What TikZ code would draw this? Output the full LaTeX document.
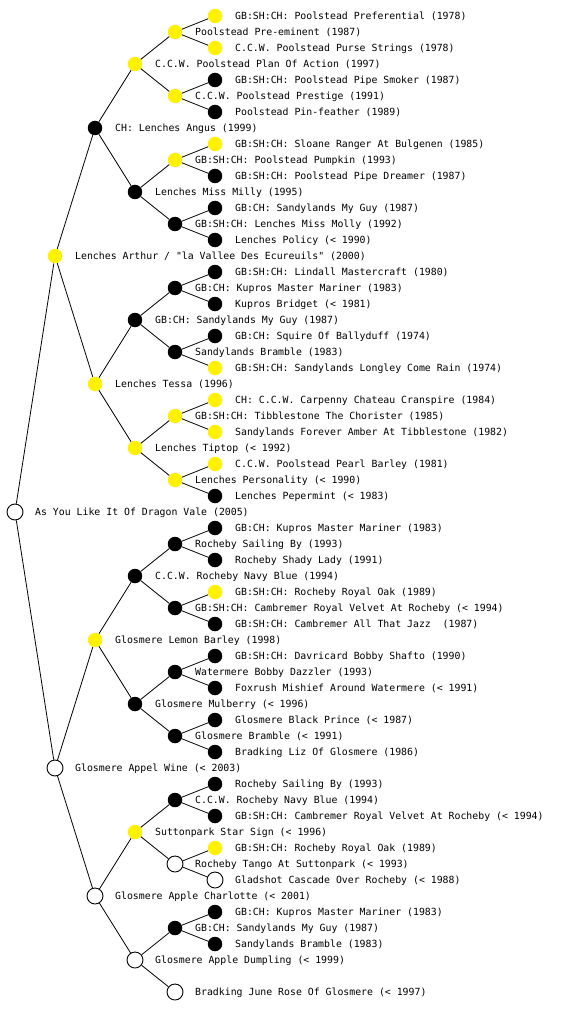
\documentclass[tikz,border=0pt]{standalone}
\usepackage{fontspec}
\newfontfamily\dogfont{DejaVu Sans Mono}
\newcommand\dg[5]{%
  \node[#4] (#1) at ({40*#2+15},{16*#3}) {};
  \node[lbl] (#1t) at ({40*#2+35},{16*#3+3.6}) {#5};}
\begin{document}
\begin{tikzpicture}[x=1pt,y=-1pt,
  wnode/.style={circle, draw=black, fill=white, line width=0.9pt, minimum size=16pt, inner sep=0pt},
  ynode/.style={circle, fill=yellow, minimum size=14.5pt, inner sep=0pt},
  dnode/.style={circle, fill=black, minimum size=14.5pt, inner sep=0pt},
  lbl/.style={anchor=base west, inner sep=0pt, font=\dogfont\fontsize{9.85}{12}\selectfont},
  edge/.style={line width=0.8pt, draw=black}]
\useasboundingbox[fill=white] (0,0) rectangle (560,1024);
% generation 0
\dg{r}{0}{32}{wnode}{As You Like It Of Dragon Vale (2005)}
% generation 1
\dg{s}{1}{16}{ynode}{Lenches Arthur / "la Vallee Des Ecureuils" (2000)}
\dg{d}{1}{48}{wnode}{Glosmere Appel Wine (< 2003)}
% generation 2
\dg{ss}{2}{8}{dnode}{CH: Lenches Angus (1999)}
\dg{sd}{2}{24}{ynode}{Lenches Tessa (1996)}
\dg{ds}{2}{40}{ynode}{Glosmere Lemon Barley (1998)}
\dg{dd}{2}{56}{wnode}{Glosmere Apple Charlotte (< 2001)}
% generation 3
\dg{sss}{3}{4}{ynode}{C.C.W. Poolstead Plan Of Action (1997)}
\dg{ssd}{3}{12}{dnode}{Lenches Miss Milly (1995)}
\dg{sds}{3}{20}{dnode}{GB:CH: Sandylands My Guy (1987)}
\dg{sdd}{3}{28}{ynode}{Lenches Tiptop (< 1992)}
\dg{dss}{3}{36}{dnode}{C.C.W. Rocheby Navy Blue (1994)}
\dg{dsd}{3}{44}{dnode}{Glosmere Mulberry (< 1996)}
\dg{dds}{3}{52}{ynode}{Suttonpark Star Sign (< 1996)}
\dg{ddd}{3}{60}{wnode}{Glosmere Apple Dumpling (< 1999)}
% generation 4
\dg{ssss}{4}{2}{ynode}{Poolstead Pre-eminent (1987)}
\dg{sssd}{4}{6}{ynode}{C.C.W. Poolstead Prestige (1991)}
\dg{ssds}{4}{10}{ynode}{GB:SH:CH: Poolstead Pumpkin (1993)}
\dg{ssdd}{4}{14}{dnode}{GB:SH:CH: Lenches Miss Molly (1992)}
\dg{sdss}{4}{18}{dnode}{GB:CH: Kupros Master Mariner (1983)}
\dg{sdsd}{4}{22}{dnode}{Sandylands Bramble (1983)}
\dg{sdds}{4}{26}{ynode}{GB:SH:CH: Tibblestone The Chorister (1985)}
\dg{sddd}{4}{30}{ynode}{Lenches Personality (< 1990)}
\dg{dsss}{4}{34}{dnode}{Rocheby Sailing By (1993)}
\dg{dssd}{4}{38}{dnode}{GB:SH:CH: Cambremer Royal Velvet At Rocheby (< 1994)}
\dg{dsds}{4}{42}{dnode}{Watermere Bobby Dazzler (1993)}
\dg{dsdd}{4}{46}{dnode}{Glosmere Bramble (< 1991)}
\dg{ddss}{4}{50}{dnode}{C.C.W. Rocheby Navy Blue (1994)}
\dg{ddsd}{4}{54}{wnode}{Rocheby Tango At Suttonpark (< 1993)}
\dg{ddds}{4}{58}{dnode}{GB:CH: Sandylands My Guy (1987)}
\dg{dddd}{4}{62}{wnode}{Bradking June Rose Of Glosmere (< 1997)}
% generation 5
\dg{sssss}{5}{1}{ynode}{GB:SH:CH: Poolstead Preferential (1978)}
\dg{ssssd}{5}{3}{ynode}{C.C.W. Poolstead Purse Strings (1978)}
\dg{sssds}{5}{5}{dnode}{GB:SH:CH: Poolstead Pipe Smoker (1987)}
\dg{sssdd}{5}{7}{dnode}{Poolstead Pin-feather (1989)}
\dg{ssdss}{5}{9}{ynode}{GB:SH:CH: Sloane Ranger At Bulgenen (1985)}
\dg{ssdsd}{5}{11}{dnode}{GB:SH:CH: Poolstead Pipe Dreamer (1987)}
\dg{ssdds}{5}{13}{dnode}{GB:CH: Sandylands My Guy (1987)}
\dg{ssddd}{5}{15}{dnode}{Lenches Policy (< 1990)}
\dg{sdsss}{5}{17}{dnode}{GB:SH:CH: Lindall Mastercraft (1980)}
\dg{sdssd}{5}{19}{dnode}{Kupros Bridget (< 1981)}
\dg{sdsds}{5}{21}{dnode}{GB:CH: Squire Of Ballyduff (1974)}
\dg{sdsdd}{5}{23}{ynode}{GB:SH:CH: Sandylands Longley Come Rain (1974)}
\dg{sddss}{5}{25}{ynode}{CH: C.C.W. Carpenny Chateau Cranspire (1984)}
\dg{sddsd}{5}{27}{ynode}{Sandylands Forever Amber At Tibblestone (1982)}
\dg{sddds}{5}{29}{ynode}{C.C.W. Poolstead Pearl Barley (1981)}
\dg{sdddd}{5}{31}{dnode}{Lenches Pepermint (< 1983)}
\dg{dssss}{5}{33}{dnode}{GB:CH: Kupros Master Mariner (1983)}
\dg{dsssd}{5}{35}{dnode}{Rocheby Shady Lady (1991)}
\dg{dssds}{5}{37}{ynode}{GB:SH:CH: Rocheby Royal Oak (1989)}
\dg{dssdd}{5}{39}{dnode}{GB:SH:CH: Cambremer All That Jazz~ (1987)}
\dg{dsdss}{5}{41}{dnode}{GB:SH:CH: Davricard Bobby Shafto (1990)}
\dg{dsdsd}{5}{43}{dnode}{Foxrush Mishief Around Watermere (< 1991)}
\dg{dsdds}{5}{45}{dnode}{Glosmere Black Prince (< 1987)}
\dg{dsddd}{5}{47}{dnode}{Bradking Liz Of Glosmere (1986)}
\dg{ddsss}{5}{49}{dnode}{Rocheby Sailing By (1993)}
\dg{ddssd}{5}{51}{dnode}{GB:SH:CH: Cambremer Royal Velvet At Rocheby (< 1994)}
\dg{ddsds}{5}{53}{ynode}{GB:SH:CH: Rocheby Royal Oak (1989)}
\dg{ddsdd}{5}{55}{wnode}{Gladshot Cascade Over Rocheby (< 1988)}
\dg{dddss}{5}{57}{dnode}{GB:CH: Kupros Master Mariner (1983)}
\dg{dddsd}{5}{59}{dnode}{Sandylands Bramble (1983)}
% connectors
\foreach \p/\c in {r/s, r/d,
  s/ss, s/sd, d/ds, d/dd,
  ss/sss, ss/ssd, sd/sds, sd/sdd, ds/dss, ds/dsd, dd/dds, dd/ddd,
  sss/ssss, sss/sssd, ssd/ssds, ssd/ssdd, sds/sdss, sds/sdsd, sdd/sdds, sdd/sddd,
  dss/dsss, dss/dssd, dsd/dsds, dsd/dsdd, dds/ddss, dds/ddsd, ddd/ddds, ddd/dddd,
  ssss/sssss, ssss/ssssd, sssd/sssds, sssd/sssdd, ssds/ssdss, ssds/ssdsd, ssdd/ssdds, ssdd/ssddd,
  sdss/sdsss, sdss/sdssd, sdsd/sdsds, sdsd/sdsdd, sdds/sddss, sdds/sddsd, sddd/sddds, sddd/sdddd,
  dsss/dssss, dsss/dsssd, dssd/dssds, dssd/dssdd, dsds/dsdss, dsds/dsdsd, dsdd/dsdds, dsdd/dsddd,
  ddss/ddsss, ddss/ddssd, ddsd/ddsds, ddsd/ddsdd, ddds/dddss, ddds/dddsd}
  \draw[edge] (\p) -- (\c);
\end{tikzpicture}
\end{document}
